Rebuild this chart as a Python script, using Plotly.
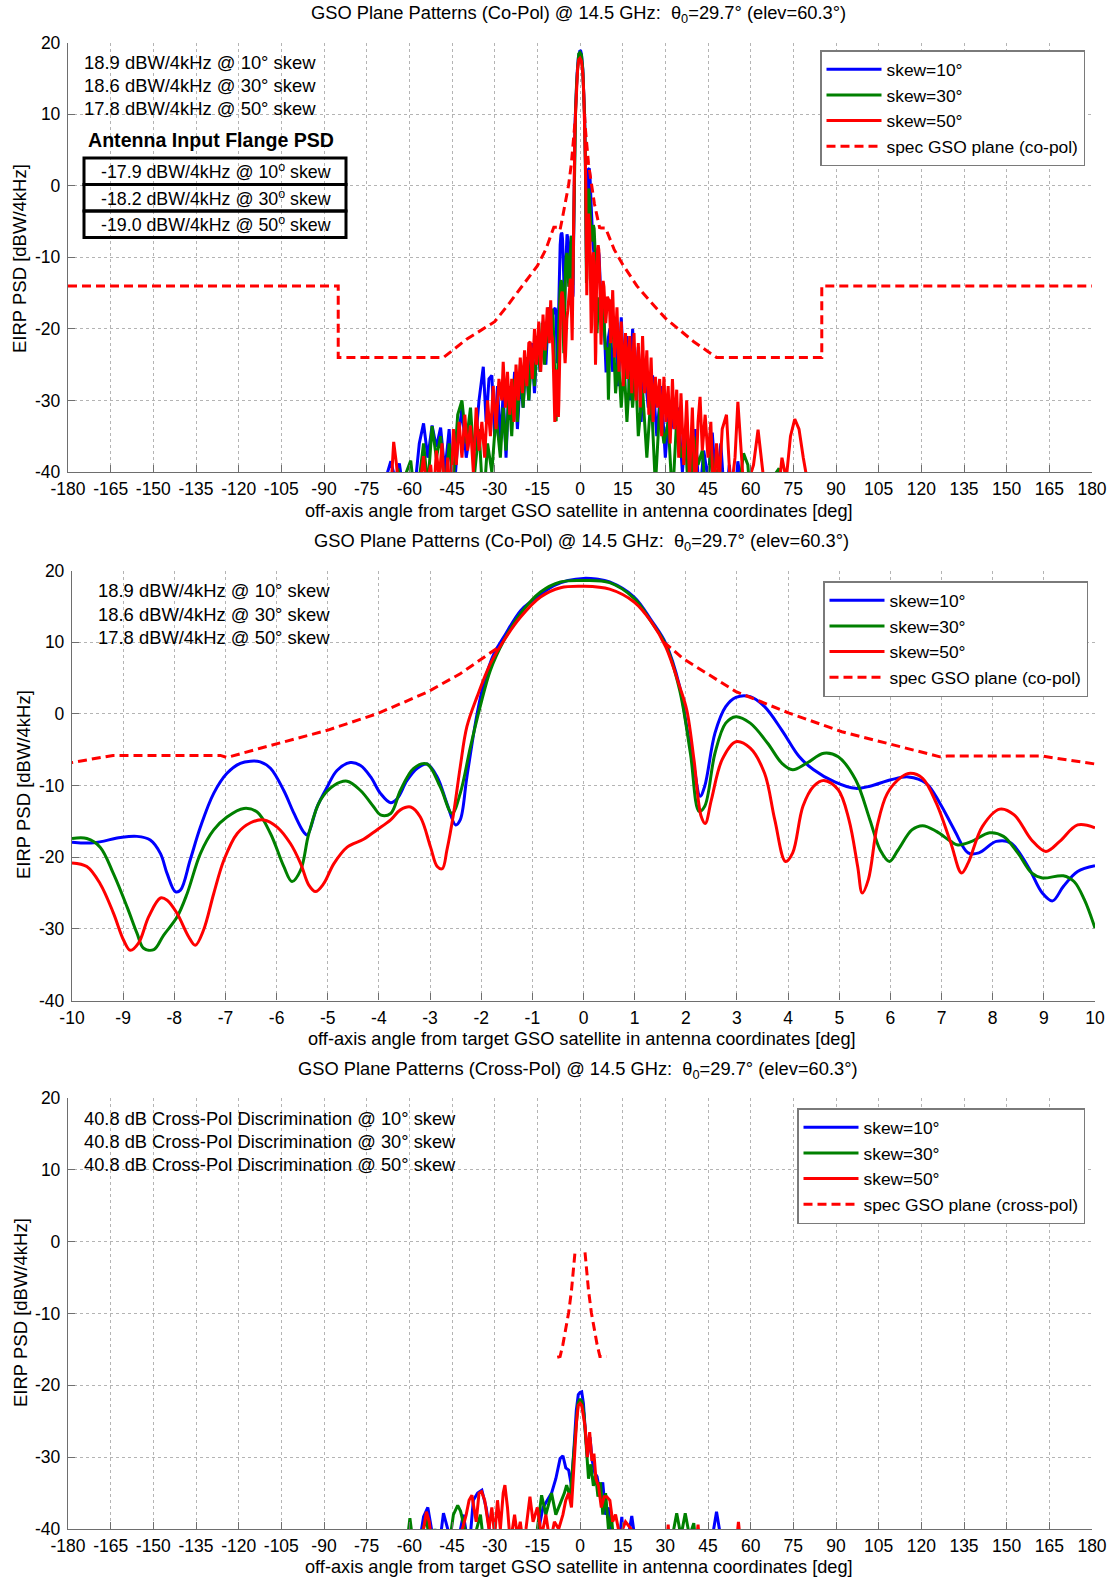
import plotly.graph_objects as go

W, H = 1112, 1578
FONT = "Liberation Sans, Arial, sans-serif"

# ---------------- data: near-in co-pol patterns (-10..10 deg) ----------------
near_blue_x = [-10, -9.58, -9.05, -8.73, -8.47, -8.27, -8.14, -7.98, -7.88, -7.69, -7.49, -7.23, -6.97, -6.71, -6.51,
               -6.32, -6.12, -5.86, -5.66, -5.47, -5.40, -5.21, -5.01, -4.82, -4.56, -4.36, -4.16, -3.97, -3.77, -3.64,
               -3.45, -3.25, -3.06, -2.86, -2.67, -2.50, -2.41, -2.28, -2.08, -1.95, -1.75, -1.56, -1.23, -1.00, -0.58,
               -0.30, 0.0, 0.25, 0.51, 0.99, 1.33, 1.61, 1.88, 2.02, 2.16, 2.28, 2.37, 2.57, 2.78, 2.98, 3.26, 3.54,
               3.88, 4.22, 4.50, 4.91, 5.32, 5.60, 6.01, 6.35, 6.70, 6.97, 7.25, 7.52, 7.73, 8.07, 8.35, 8.69, 8.97,
               9.17, 9.38, 9.66, 10]
near_blue_y = [-17.9, -18.0, -17.25, -17.1, -17.6, -19.5, -22.3, -24.8, -24.6, -20.4, -15.8, -11.1, -8.3, -6.9, -6.6,
               -6.7, -7.6, -10.7, -13.9, -16.5, -16.9, -13.0, -10.2, -7.9, -6.8, -7.2, -8.8, -11.1, -12.4, -11.8,
               -9.3, -7.6, -7.0, -8.8, -12.5, -15.5, -14.8, -8.8, 0.0, 4.2, 8.4, 10.7, 14.4, 15.8, 17.9,
               18.6, 18.9, 18.8, 18.4, 16.3, 13.0, 9.8, 3.8, -1.9, -7.4, -11.5, -10.1, -2.7, 1.0, 2.3, 2.4, 1.0,
               -2.3, -6.0, -7.8, -9.5, -10.4, -10.1, -9.2, -8.8, -9.7, -12.5, -16.2, -19.4, -19.4, -17.8, -18.0, -21.3,
               -25.0, -26.1, -24.1, -22.0, -21.2]

near_green_x = [-10, -9.71, -9.45, -9.19, -8.92, -8.73, -8.60, -8.40, -8.21, -7.95, -7.75, -7.49, -7.23, -6.97, -6.64,
                -6.38, -6.12, -5.86, -5.70, -5.53, -5.37, -5.14, -4.88, -4.62, -4.36, -4.10, -3.97, -3.77, -3.58,
                -3.32, -3.06, -2.80, -2.57, -2.41, -2.21, -2.02, -1.82, -1.56, -1.23, -0.84, -0.45, 0.0, 0.51,
                0.99, 1.33, 1.61, 1.88, 2.09, 2.26, 2.37, 2.57, 2.78, 2.98, 3.26, 3.60, 3.88, 4.09, 4.36, 4.70, 4.98,
                5.32, 5.60, 5.80, 5.98, 6.15, 6.42, 6.63, 6.90, 7.18, 7.32, 7.59, 7.94, 8.21, 8.49, 8.76, 8.97, 9.38,
                9.59, 9.79, 10]
near_green_y = [-17.4, -17.4, -18.6, -22.3, -27.0, -30.6, -32.7, -32.9, -30.9, -28.4, -25.1, -19.5, -16.2, -14.4, -13.2,
                -13.7, -16.7, -21.3, -23.4, -21.8, -16.7, -12.0, -10.0, -9.4, -10.7, -13.0, -14.1, -13.9, -10.7,
                -7.6, -7.0, -10.2, -13.9, -11.1, -4.6, 1.0, 6.1, 10.2, 14.0, 17.0, 18.4, 18.6, 18.3,
                16.1, 12.8, 9.6, 3.3, -5.5, -13.6, -12.9, -5.5, -1.3, -0.4, -1.3, -4.1, -6.9, -7.8, -6.9, -5.5, -6.0,
                -9.2, -14.8, -19.0, -20.6, -19.0, -16.2, -15.6, -16.4, -17.8, -18.3, -17.8, -16.6, -17.1, -19.4, -22.2,
                -22.9, -22.6, -23.4, -25.9, -29.9]

near_red_x = [-10, -9.71, -9.45, -9.19, -8.99, -8.86, -8.70, -8.50, -8.27, -8.14, -7.95, -7.72, -7.59, -7.43, -7.23,
              -7.03, -6.77, -6.51, -6.25, -5.99, -5.73, -5.53, -5.37, -5.24, -5.08, -4.88, -4.62, -4.30, -4.04, -3.77,
              -3.58, -3.38, -3.19, -2.99, -2.86, -2.76, -2.67, -2.54, -2.41, -2.28, -2.08, -1.82, -1.56, -1.23, -0.84,
              -0.45, 0.0, 0.51, 0.99, 1.33, 1.61, 1.88, 2.02, 2.16, 2.30, 2.38, 2.50, 2.71, 2.98, 3.26, 3.54, 3.74,
              3.95, 4.09, 4.29, 4.50, 4.70, 4.98, 5.19, 5.36, 5.45, 5.57, 5.74, 5.94, 6.22, 6.39, 6.63, 6.90, 7.18,
              7.39, 7.52, 7.80, 8.14, 8.42, 8.76, 9.04, 9.31, 9.66, 10]
near_red_y = [-20.8, -21.3, -23.7, -27.8, -31.6, -33.0, -32.0, -28.3, -25.7, -26.0, -27.8, -31.1, -32.3, -30.2, -25.1,
              -20.4, -16.7, -15.2, -14.8, -15.8, -18.1, -20.9, -23.9, -24.8, -23.7, -20.9, -18.6, -17.5, -16.2, -14.8,
              -13.4, -13.0, -14.4, -18.6, -21.3, -21.6, -19.0, -13.9, -7.4, -1.8, 2.4, 7.0, 10.2, 13.5, 16.3,
              17.6, 17.8, 17.4, 15.6, 12.8, 9.3, 3.8, 0.5, -6.4, -14.3, -15.3, -12.0, -6.4, -3.9, -4.8, -8.3, -14.8,
              -20.6, -19.4, -12.9, -10.1, -9.3, -10.6, -14.8, -21.3, -25.0, -23.1, -15.7, -11.1, -8.8, -8.3, -9.0,
              -12.5, -18.0, -22.2, -20.8, -15.7, -13.3, -14.1, -17.6, -19.2, -17.8, -15.5, -15.9]

# ---------------- data: far side lobes, co-pol (full-range plot) ----------------
far_blue_left_x = [-70, -68, -66.5, -65, -63.5, -62, -60, -58, -56.5, -55, -53.5, -52, -50.5, -49, -47.5, -46, -44.5,
                   -43, -41.5, -40, -38.5, -37, -35.5, -34, -33, -32, -31, -30, -29, -28, -27, -26, -25, -24, -23,
                   -22, -21, -20, -19, -18, -17, -16, -15, -14, -13, -12, -11, -10.4]
far_blue_left_y = [-45, -40.5, -38.5, -41, -38.8, -43, -45, -42, -36, -33.2, -38, -33.5, -36.5, -33.8, -40, -34, -44,
                   -36, -31, -38, -34, -37, -30, -25.3, -33, -27, -26.5, -35, -28, -36, -29, -38, -28, -33, -26,
                   -34, -27, -31, -24, -30, -22, -29, -21, -26, -19, -25, -17, -19]
far_blue_right_x = [10.5, 11.5, 12.5, 13.5, 14.5, 15.5, 16.5, 17.5, 18.5, 19.5, 20.5, 21.5, 22.5, 24, 25.5, 27, 28.5,
                    30, 31.5, 33, 34.5, 36, 37.5, 39, 40.5, 42, 43.5, 45, 46.5, 48, 49.5, 51, 52.5, 54, 55.5, 57,
                    58.5, 60]
far_blue_right_y = [-20, -26, -19.5, -28, -18.4, -27, -21, -30, -20, -29, -22.5, -33, -25, -31, -26.5, -35, -28, -38,
                    -30, -34, -31, -40, -33, -42, -34, -44, -37, -41, -34.5, -43, -36, -45, -39, -46, -38.5, -43,
                    -40.5, -46]

far_green_left_x = [-66, -64, -62.5, -61, -59.5, -58, -56.5, -55, -53.5, -52, -50.5, -49, -47.5, -46, -44.5, -43,
                    -41.5, -40, -38.5, -37, -35.5, -34, -32.5, -31, -29.5, -28, -27, -26, -25, -24, -23, -22, -21,
                    -20, -19, -18, -17, -16, -15, -14, -13.3, -12.5, -11.5, -10.5]
far_green_left_y = [-46, -39.5, -43, -40, -38.4, -44, -41, -36, -42, -33.6, -38, -35, -43, -36, -41, -32,
                    -30, -36, -31, -40, -34, -45, -36, -40, -32, -38, -31, -37, -29, -35, -27, -33, -25, -31,
                    -24, -30, -23, -28, -21, -26, -19.2, -25, -20, -17]
far_green_right_x = [10.5, 11.6, 12.5, 13.5, 14.5, 15.5, 16.5, 17.5, 18.5, 19.5, 20.5, 22, 23.5, 25, 26.5, 28, 29.5,
                     31, 32.5, 34, 35.5, 37, 38.5, 40, 41.5, 43, 44.5, 46, 47.5, 49, 50.5, 52, 55, 57.5, 59, 60.5,
                     62, 70, 72, 74]
far_green_right_y = [-22, -19.2, -29, -24, -31, -25, -33, -26, -31, -25.5, -35, -28.5, -38, -29, -42, -31, -36, -33,
                     -44, -32.5, -38, -35, -46, -35, -39, -37, -45, -36.5, -41, -39, -46, -42, -45, -37.4, -39,
                     -46, -44, -39.5, -45, -46]

far_red_left_x = [-67, -66, -65.5, -64.5, -63, -58, -56, -55, -54, -52.5, -51.5, -50.5, -49.5, -48.5, -47.5, -46.5,
                  -45.5, -44.5, -43.5, -42.5, -41.5, -40.5, -39.5, -38.5, -37.5, -36.5, -35.5, -34.5, -33.5, -32.5,
                  -31.5, -30.5, -29.5, -28.5, -27.5, -27, -26.2, -25.5, -24.7, -24, -23.2, -22.5, -21.7, -21,
                  -20.2, -19.5, -18.7, -18, -17.5, -16.8, -16, -15.3, -14.5, -13.8, -13, -12.3, -11.5, -10.8, -10.3]
far_red_left_y = [-46, -39, -35.8, -39, -45, -46, -41, -37.8, -42, -39, -44, -37, -41, -36, -44, -38,
                  -45, -34, -39, -33, -38, -32, -37, -33.5, -40, -31, -37, -33, -38, -30,
                  -35, -28, -34, -27, -30, -24.6, -31, -26, -32, -27, -33, -25, -30, -24,
                  -29, -23, -28, -22, -21.8, -27, -20, -25, -19, -26, -18, -23, -17, -22, -16]
far_red_right_x = [10.3, 10.8, 11.5, 12.2, 13, 13.7, 14.5, 15.2, 16, 16.7, 17.5, 18.2, 19, 19.7, 20.5, 21.2, 22, 22.7,
                   23.5, 24.2, 25, 25.7, 26.5, 27.2, 28, 28.7, 29.5, 30.2, 31, 31.7, 32.5, 33.2, 34, 34.7, 35.5,
                   36.5, 37.5, 38.5, 39.5, 40.5, 41.5, 42.2, 43, 44, 45, 46, 47, 48, 49, 50, 51.5, 53, 54.5, 55.5,
                   56.5, 58, 59.5, 61, 62.6, 64.5, 66, 69, 71, 72.5, 74, 75.5, 77, 78.5, 80, 82]
far_red_right_y = [-16, -22, -14.6, -24, -17, -26, -19, -28, -20.6, -27, -21, -29, -20.6, -30, -22, -31, -21, -29,
                   -23, -32, -24, -33, -26.7, -31, -27, -35, -26.7, -33, -28, -36, -27, -34, -28.5, -38, -29,
                   -39, -30, -41, -31, -44, -33, -29.5, -37, -32, -38, -33, -45, -36, -41, -34, -32, -43, -38, -30.2,
                   -37, -45, -41, -39, -34.1, -40, -46, -46, -38, -41, -35, -32.6, -34, -38, -42, -46]

# ---------------- data: spec masks ----------------
spec_co_x = [-180, -85, -85, -48, -40, -30, -25, -20, -15, -12, -10, -9.2, -7.1, -6.97, -6.32, -5.01, -4.04, -3.06,
             -2.41, -1.62, None, 1.57, 1.95, 2.98, 4.02, 5.05, 6.08, 6.97, 7.11, 8.97, 10, 12, 15, 20, 25, 30, 40,
             48, 85, 85, 180]
spec_co_y = [-14, -14, -24, -24, -21.5, -19.0, -16.5, -13.8, -11.2, -8.9, -6.8, -5.8, -5.8, -6.1, -4.8, -2.3, 0.0, 3.0,
             5.6, 9.5, None, 10.0, 7.7, 3.1, 0.1, -2.5, -4.4, -6.0, -5.9, -5.9, -7.0, -8.9, -11.0, -14.0, -16.3,
             -18.5, -21.8, -24, -24, -14, -14]

spec_x_x = [-8.0, -7.0, -6.0, -5.0, -4.0, -3.0, -2.5, -2.0, -1.76, None, 1.76, 2.0, 2.5, 3.0, 4.0, 5.0, 6.0, 7.0, 9.4]
spec_x_y = [-16.1, -16.0, -14.3, -12.3, -9.9, -6.8, -4.8, -2.6, -1.5, None, -1.5, -2.6, -4.8, -6.8, -9.9, -12.3,
            -14.3, -16.0, -16.0]

# ---------------- data: cross-pol patterns ----------------
xp_blue_x = [-58, -56.5, -55, -53.5, -52, -50, -48, -46.5, -45, -43, -41, -39, -37.5, -36, -34.5, -33, -31.5, -30,
             -28, -26, -24, -22, -20, -18, -16, -14.5, -13, -11.5, -10, -8.5, -7, -6, -5, -4, -3, -2, -1.3, -0.6,
             0, 0.6, 1.2, 1.9, 2.6, 3.5, 4.3, 5.2, 6, 7, 8, 9, 10, 11, 12.5, 14, 14.7, 15.5, 17, 18.2, 19.5, 21,
             45.5, 47, 48, 49, 50.5]
xp_blue_y = [-45, -42, -38.3, -37, -40.5, -44, -37.8, -40, -45, -42, -38, -43, -36, -35, -34.6, -37, -41, -45,
             -44, -45, -42, -45, -44, -42, -45, -40, -37, -36, -35, -33, -30.2, -29.8, -31.5, -31.8, -34, -28, -23.5,
             -21.3, -21.0, -20.9, -22.5, -26.5, -30, -27.2, -30.5, -32.2, -32.7, -35, -33.5, -38, -37, -41, -45, -41,
             -38.3, -43, -41, -38.2, -42, -46, -46, -40, -37.6, -40, -46]

xp_green_x = [-62, -60.5, -59.8, -59, -57, -55.5, -54, -52.5, -51, -49, -47, -44.5, -43, -42, -40.5, -39, -37, -35,
              -33, -31, -29, -27, -25, -20, -17, -15, -13.5, -12, -10, -8.5, -7, -5.5, -4.7, -3.5, -2.5, -1.5, -0.7,
              0, 0.7, 1.4, 2.2, 3, 3.8, 4.7, 5.5, 6.3, 7.2, 8, 9, 10, 11, 12.5, 31, 32.5, 34, 35.5, 37, 38.5, 40,
              41.5]
xp_green_y = [-46, -41, -38.5, -41, -46, -40.5, -38.5, -43, -40, -46, -45, -38, -36.7, -37.5, -40, -44, -41, -38,
              -45, -43, -42, -45, -46, -46, -44, -40, -35.3, -38, -35, -38, -36.5, -35, -33.9, -35.5, -31, -26, -22.5,
              -21.9, -22.3, -24, -28.5, -33, -31, -34, -32.5, -35.5, -33.5, -38, -35, -40, -38, -45, -46, -41, -37.8,
              -41, -37.8, -41, -39.2, -45]

xp_red_x = [-56.5, -55, -54, -53, -51.5, -50, -48, -46, -44, -42, -40, -39, -38, -36.5, -35.5, -34.6, -33.5, -32,
            -31, -30, -29, -28, -27, -26.4, -25.5, -24.5, -23, -22, -21, -20, -19, -17.6, -16.5, -15, -13.5, -12,
            -10.5, -9, -7.5, -6, -5, -4, -3, -2, -1.2, -0.6, 0, 0.6, 1.2, 1.8, 2.6, 3.4, 4.2, 4.9, 5.6, 6.5, 7.5,
            8.5, 9.4, 10.5, 11.5, 12.5, 14, 16, 18, 20, 22, 24, 30, 31, 32, 40, 41.5, 43, 54, 55.7, 57.5]
xp_red_y = [-46, -40, -37.6, -39, -44, -41, -45, -43, -46, -41, -38, -36, -35.3, -39, -35, -34.8, -36, -40,
            -37, -41, -36, -40, -35, -33.9, -37, -42, -38, -41, -39, -42, -40, -35.5, -39, -37, -41, -38,
            -42, -39, -40, -38, -36, -35, -37, -30, -25, -22.8, -22.5, -22.8, -24.5, -25.8, -30, -26.5, -30.5,
            -29.5, -33, -34, -37, -35.5, -35.5, -36, -39, -38, -41, -39, -40, -45, -43, -46, -46, -39.4, -46, -46,
            -39.4, -46, -46, -39, -46]

# ---------------- text ----------------
series_names = ["skew=10°", "skew=30°", "skew=50°"]
series_colors = ["#0000FF", "#008000", "#FF0000"]
peak_text = ["18.9 dBW/4kHz @ 10° skew", "18.6 dBW/4kHz @ 30° skew", "17.8 dBW/4kHz @ 50° skew"]
flange_text = ["-17.9 dBW/4kHz @ 10<sup>o</sup> skew", "-18.2 dBW/4kHz @ 30<sup>o</sup> skew",
               "-19.0 dBW/4kHz @ 50<sup>o</sup> skew"]
xpd_text = ["40.8 dB Cross-Pol Discrimination @ 10° skew", "40.8 dB Cross-Pol Discrimination @ 30° skew",
            "40.8 dB Cross-Pol Discrimination @ 50° skew"]
title_co = "GSO Plane Patterns (Co-Pol) @ 14.5 GHz: \u00a0θ<sub>0</sub>=29.7° (elev=60.3°)"
title_x = "GSO Plane Patterns (Cross-Pol) @ 14.5 GHz: \u00a0θ<sub>0</sub>=29.7° (elev=60.3°)"
xlabel = "off-axis angle from target GSO satellite in antenna coordinates [deg]"
ylabel = "EIRP PSD [dBW/4kHz]"
wide_ticks = [-180, -165, -150, -135, -120, -105, -90, -75, -60, -45, -30, -15, 0, 15, 30, 45, 60, 75, 90, 105,
              120, 135, 150, 165, 180]
near_ticks = [-10, -9, -8, -7, -6, -5, -4, -3, -2, -1, 0, 1, 2, 3, 4, 5, 6, 7, 8, 9, 10]
y_ticks = [-40, -30, -20, -10, 0, 10, 20]

# ---------------- figure ----------------
def px(x):
    return x / W

def py(y):
    return 1 - y / H

fig = go.Figure()

full_blue_x = far_blue_left_x + near_blue_x + far_blue_right_x
full_blue_y = far_blue_left_y + near_blue_y + far_blue_right_y
full_green_x = far_green_left_x + near_green_x + far_green_right_x
full_green_y = far_green_left_y + near_green_y + far_green_right_y
full_red_x = far_red_left_x + near_red_x + far_red_right_x
full_red_y = far_red_left_y + near_red_y + far_red_right_y

panels = [
    ("x", "y", "legend", [(full_blue_x, full_blue_y), (full_green_x, full_green_y), (full_red_x, full_red_y)],
     (spec_co_x, spec_co_y), "spec GSO plane (co-pol)", "linear"),
    ("x2", "y2", "legend2", [(near_blue_x, near_blue_y), (near_green_x, near_green_y), (near_red_x, near_red_y)],
     (spec_co_x, spec_co_y), "spec GSO plane (co-pol)", "spline"),
    ("x3", "y3", "legend3", [(xp_blue_x, xp_blue_y), (xp_green_x, xp_green_y), (xp_red_x, xp_red_y)],
     (spec_x_x, spec_x_y), "spec GSO plane (cross-pol)", "linear"),
]
for xa, ya, lg, series, spec, spec_name, shape in panels:
    for (sx, sy), name, col in zip(series, series_names, series_colors):
        fig.add_trace(go.Scatter(x=sx, y=sy, mode="lines", name=name, xaxis=xa, yaxis=ya, legend=lg,
                                 line=dict(color=col, width=3, shape=shape), connectgaps=False))
    fig.add_trace(go.Scatter(x=spec[0], y=spec[1], mode="lines", name=spec_name, xaxis=xa, yaxis=ya, legend=lg,
                             line=dict(color="#FF0000", width=3, dash="9px,5px"), connectgaps=False))

axis_common = dict(showgrid=True, gridcolor="#b4b4b4", griddash="dot", gridwidth=1, zeroline=False,
                   showline=True, linecolor="#6e6e6e", linewidth=1.3, ticks="inside", ticklen=7,
                   tickcolor="#6e6e6e", tickangle=0, tickfont=dict(family=FONT, size=17.5, color="black"))

doms = {
    1: dict(x=[px(68), px(1092)], y=[py(472), py(42.5)], r=[-180, 180], t=wide_ticks),
    2: dict(x=[px(72), px(1095)], y=[py(1000.5), py(570.5)], r=[-10, 10], t=near_ticks),
    3: dict(x=[px(68), px(1092)], y=[py(1529), py(1098)], r=[-180, 180], t=wide_ticks),
}
layout = dict(width=W, height=H, margin=dict(l=0, r=0, t=0, b=0, autoexpand=False), paper_bgcolor="white",
              plot_bgcolor="white", font=dict(family=FONT, size=18, color="black"))
for i, d in doms.items():
    s = "" if i == 1 else str(i)
    layout["xaxis" + s] = dict(axis_common, domain=d["x"], range=d["r"], tickvals=d["t"],
                               ticktext=[str(v) for v in d["t"]], anchor="y" + s, ticklabelstandoff=1)
    layout["yaxis" + s] = dict(axis_common, domain=d["y"], range=[-40, 20], tickvals=y_ticks,
                               ticktext=[str(v) for v in y_ticks], anchor="x" + s, ticklabelstandoff=3)

leg_common = dict(bgcolor="white", bordercolor="#7a7a7a", borderwidth=1.5, xanchor="right", yanchor="top",
                  font=dict(family=FONT, size=17.4, color="black"), itemwidth=55, tracegroupgap=0)
layout["legend"] = dict(leg_common, x=px(1085), y=py(50))
layout["legend2"] = dict(leg_common, x=px(1088), y=py(581))
layout["legend3"] = dict(leg_common, x=px(1085), y=py(1108))
fig.update_layout(**layout)

ann = []
def text(x, y, t, size=18, xanchor="center", angle=0, bold=False):
    ann.append(dict(x=px(x), y=py(y), xref="paper", yref="paper", text=("<b>%s</b>" % t) if bold else t,
                    showarrow=False, xanchor=xanchor, yanchor="middle", textangle=angle,
                    font=dict(family=FONT, size=size, color="black")))

# titles
text(578, 14, title_co, 18.3)
text(581, 542, title_co, 18.3)
text(578, 1070, title_x, 18.3)
# axis labels
text(579, 511, xlabel, 18.2)
text(582, 1039, xlabel, 18.2)
text(579, 1567, xlabel, 18.2)
text(20, 259, ylabel, 18.5, angle=-90)
text(23, 785, ylabel, 18.5, angle=-90)
text(20, 1313, ylabel, 18.5, angle=-90)
# notes
for k, t in enumerate(peak_text):
    text(82, 62.5 + 23.2 * k, t, 18.4, xanchor="left")
for k, t in enumerate(peak_text):
    text(96, 591 + 23 * k, t, 18.4, xanchor="left")
for k, t in enumerate(xpd_text):
    text(82, 1118 + 23 * k, t, 18.3, xanchor="left")
text(211, 140, "Antenna Input Flange PSD", 19.6, bold=True)
box_edges = [158, 184.5, 211, 237.5]
shapes = []
for k, t in enumerate(flange_text):
    text(216, (box_edges[k] + box_edges[k + 1]) / 2, t, 17.8)
    shapes.append(dict(type="rect", xref="paper", yref="paper", x0=px(84), x1=px(346),
                       y0=py(box_edges[k + 1]), y1=py(box_edges[k]), line=dict(color="black", width=3)))

fig.update_layout(annotations=ann, shapes=shapes)
fig.write_html("out.html")
